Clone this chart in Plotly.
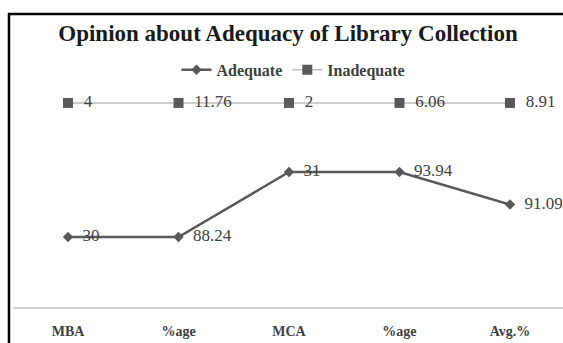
import plotly.graph_objects as go

# Category labels along the x axis
categories = ["MBA", "%age", "MCA", "%age", "Avg.%"]

# Responses per category
adequate = [30, 88.24, 31, 93.94, 91.09]
inadequate = [4, 11.76, 2, 6.06, 8.91]

# Plotted as a 100% stacked line: each point is its share of the column total
x_pos = list(range(len(categories)))
totals = [a + b for a, b in zip(adequate, inadequate)]
adequate_pct = [a / t * 100 for a, t in zip(adequate, totals)]
inadequate_pct = [(a + b) / t * 100 for a, b, t in zip(adequate, inadequate, totals)]

serif = "Liberation Serif"
dark = "#595959"
label_col = "#404040"
pad = "\u00a0\u00a0"  # small gap between marker and its value label


def labels(values):
    return [pad + f"{v:g}" for v in values]


fig = go.Figure()

fig.add_trace(go.Scatter(
    x=x_pos, y=adequate_pct, name="Adequate",
    mode="lines+markers+text",
    text=labels(adequate), textposition="middle right",
    textfont=dict(family=serif, size=17, color=label_col),
    line=dict(color=dark, width=2.5),
    marker=dict(symbol="diamond", size=8, color=dark),
    cliponaxis=False,
))

fig.add_trace(go.Scatter(
    x=x_pos, y=inadequate_pct, name="Inadequate",
    mode="lines+markers+text",
    text=labels(inadequate), textposition="middle right",
    textfont=dict(family=serif, size=17, color=label_col),
    line=dict(color="#bdbdbd", width=1.5),
    marker=dict(symbol="square", size=10, color=dark),
    cliponaxis=False,
))

fig.update_layout(
    width=563, height=343,
    margin=dict(l=13, r=0, t=79, b=36),
    paper_bgcolor="white", plot_bgcolor="white",
    font=dict(family=serif),
    title=dict(
        text="<b>Opinion about Adequacy of Library Collection</b>",
        font=dict(family=serif, size=23, color="#1a1a1a"),
        x=0.5, xref="paper", xanchor="center",
        y=1 - 33 / 343, yref="container", yanchor="middle",
    ),
    legend=dict(
        orientation="h", x=0.51, xanchor="center",
        y=1.04, yanchor="middle",
        font=dict(family=serif, size=16, color=label_col, weight="bold"),
        itemwidth=30, bgcolor="rgba(0,0,0,0)",
    ),
    xaxis=dict(
        range=[-0.498, 4.48],
        tickmode="array", tickvals=x_pos, ticktext=categories,
        tickfont=dict(family=serif, size=14, color="#404040", weight="bold"),
        showline=True, linecolor="#d0d0d0", linewidth=1.5,
        showgrid=False, zeroline=False, ticks="",
        ticklabelstandoff=10,
    ),
    yaxis=dict(
        range=[82.1, 102.1], visible=False,
        showgrid=False, zeroline=False,
    ),
    shapes=[dict(
        type="rect", xref="paper", yref="paper",
        x0=-0.0073, x1=1.05, y0=-0.3, y1=1.285,
        line=dict(color="black", width=2.5), fillcolor="rgba(0,0,0,0)",
        layer="above",
    )],
)

fig.write_html("out.html")
